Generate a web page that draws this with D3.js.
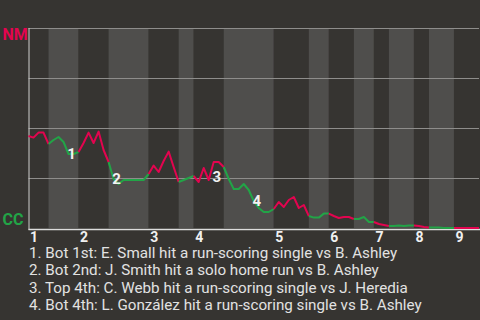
<!DOCTYPE html>
<html>
<head>
<meta charset="utf-8">
<script src="https://cdn.jsdelivr.net/npm/d3@7"></script>
<style>
  html, body { margin: 0; padding: 0; background: #363431; }
  svg { display: block; font-family: Roboto, "Noto Sans", sans-serif; }
</style>
</head>
<body>
<svg id="chart" width="480" height="320"></svg>
<script>
// events per half inning (top 1, bot 1, top 2, ...)
const halfInningEvents = [4, 6, 6, 8, 6, 3, 6, 10, 7, 4, 5, 4, 3, 5, 3, 5, 5];
const innings = ["1", "2", "3", "4", "5", "6", "7", "8", "9"];

// NM win probability (%) after each event, index 0 = first pitch
const winProb = [
  46, 45.2, 47.7, 47.7, 42,
  44, 45.5, 43, 37, 37, 38,
  42.5, 47.7, 42.5, 48.2, 39, 33,
  24.5, 22, 24, 24, 24, 24, 24, 27,
  31.2, 28, 33.5, 38.2, 30.5, 23,
  24, 25, 26,
  23, 30, 24, 33, 33, 30.5,
  24.5, 19.5, 19.5, 22, 19, 13.5, 10, 8, 8, 9.5,
  13, 10.5, 14, 15.5, 10, 11.5, 6,
  5.2, 5.2, 7.2, 7.2,
  6, 5, 5.5, 5.5, 4.5,
  4.5, 5.5, 3, 3,
  2, 1.5, 1,
  1, 1.2, 1, 1.2, 1.3,
  1, 0.5, 0.2,
  0.2, 0.2, 0, 0, 0,
  0, 0, 0, 0, 0
];

const teams = { top: "NM", bottom: "CC" };

const keyPlays = [
  { n: 1, event: 8, text: "Bot 1st: E. Small hit a run-scoring single vs B. Ashley" },
  { n: 2, event: 17, text: "Bot 2nd: J. Smith hit a solo home run vs B. Ashley" },
  { n: 3, event: 37, text: "Top 4th: C. Webb hit a run-scoring single vs J. Heredia" },
  { n: 4, event: 45, text: "Bot 4th: L. González hit a run-scoring single vs B. Ashley" }
];

const RED = "#e3044f";
const GREEN = "#22a447";

const svg = d3.select("#chart");
const margin = { left: 28.5, right: 1, top: 28, bottom: 92 };
const width = 480, height = 320;
const totalEvents = d3.sum(halfInningEvents);

const x = d3.scaleLinear().domain([0, totalEvents]).range([margin.left, width - margin.right]);
const y = d3.scaleLinear().domain([0, 100]).range([height - margin.bottom, margin.top]);

// half inning ranges
let acc = 0;
const halves = halfInningEvents.map((c, i) => {
  const h = { i, start: acc, end: acc + c, top: i % 2 === 0 };
  acc += c;
  return h;
});

// bands
svg.append("g")
  .selectAll("rect")
  .data(halves)
  .join("rect")
  .attr("x", (d) => x(d.start))
  .attr("width", (d) => x(d.end) - x(d.start))
  .attr("y", y(100))
  .attr("height", y(0) - y(100))
  .attr("fill", (d) => (d.top ? "#363431" : "#4f4e4c"));

// gridlines
svg.append("g")
  .selectAll("line")
  .data([100, 75, 50, 25])
  .join("line")
  .attr("x1", x(0))
  .attr("x2", x(totalEvents))
  .attr("y1", (d) => y(d) + 0.5)
  .attr("y2", (d) => y(d) + 0.5)
  .attr("stroke", "#8e8d8b")
  .attr("stroke-width", 1);

// axes lines
svg.append("line")
  .attr("x1", x(0) + 0.5).attr("x2", x(0) + 0.5)
  .attr("y1", y(100)).attr("y2", y(0) + 2)
  .attr("stroke", "#cfcfcf").attr("stroke-width", 1);
svg.append("line")
  .attr("x1", x(0)).attr("x2", width)
  .attr("y1", y(0) + 1.5).attr("y2", y(0) + 1.5)
  .attr("stroke", "#dcdcdc").attr("stroke-width", 1.5);

// win prob line, coloured by half inning
const line = d3.line().x((d) => x(d.i)).y((d) => y(d.p));
svg.append("g")
  .selectAll("path")
  .data(halves)
  .join("path")
  .attr("d", (h) => line(d3.range(h.start, h.end + 1).map((i) => ({ i, p: winProb[i] }))))
  .attr("fill", "none")
  .attr("stroke", (h) => (h.top ? RED : GREEN))
  .attr("stroke-width", 2)
  .attr("stroke-linejoin", "round");

// team labels
svg.append("text")
  .attr("x", 2.5).attr("y", y(100) + 11.5)
  .attr("fill", RED).attr("font-size", 16).attr("font-weight", "bold")
  .text(teams.top);
svg.append("text")
  .attr("x", 2.5).attr("y", y(0) - 3)
  .attr("fill", GREEN).attr("font-size", 16).attr("font-weight", "bold")
  .text(teams.bottom);

// inning tick labels
svg.append("g")
  .selectAll("text")
  .data(innings)
  .join("text")
  .attr("x", (d, i) => x(halves[i * 2].start) + 1.5)
  .attr("y", y(0) + 14)
  .attr("fill", "#f0f0f0")
  .attr("font-size", 14)
  .attr("font-weight", "bold")
  .text((d) => d);

// key play markers
svg.append("g")
  .selectAll("text")
  .data(keyPlays)
  .join("text")
  .attr("x", (d) => x(d.event) + 3)
  .attr("y", (d) => y(winProb[d.event]) + (d.n === 3 ? 15 : 0))
  .attr("dy", "0.36em")
  .attr("text-anchor", "middle")
  .attr("fill", "#f2f2f2")
  .attr("font-size", 15)
  .attr("font-weight", "bold")
  .text((d) => d.n);

// key play list
svg.append("g")
  .selectAll("text")
  .data(keyPlays)
  .join("text")
  .attr("x", 29)
  .attr("y", (d, i) => 257.5 + i * 17.5)
  .attr("fill", "#e2e2e2")
  .attr("font-size", 15.2)
  .text((d) => `${d.n}. ${d.text}`);
</script>
</body>
</html>
